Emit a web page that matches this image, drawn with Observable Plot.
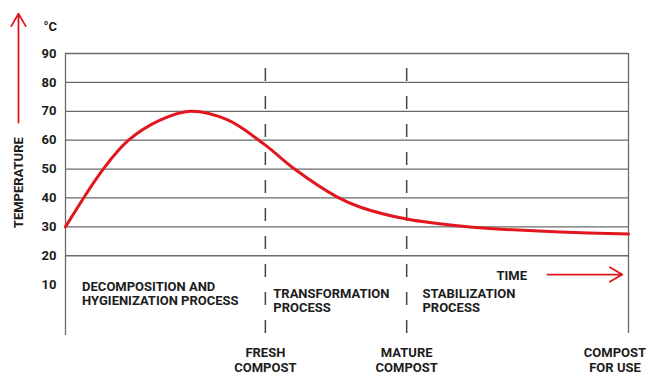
<!DOCTYPE html>
<html>
<head>
<meta charset="utf-8">
<script src="https://cdn.jsdelivr.net/npm/d3@7"></script>
<script src="https://cdn.jsdelivr.net/npm/@observablehq/plot@0.6"></script>
<style>
  html, body { margin: 0; padding: 0; background: #fff; }
  #chart { width: 646px; height: 374px; overflow: hidden; }
</style>
</head>
<body>
<div id="chart"></div>
<script>
// Temperature curve (time in % of process, temperature in °C)
const time = [0, 6.7, 11.2, 16.9, 22.2, 28.8, 35.5, 40.5, 48.3, 52.4, 60.6, 71.4, 77.3, 87.9, 100];
const temperature = [30, 50, 60, 67, 70, 67, 58.3, 50.3, 40.3, 36.8, 32.7, 30, 29.2, 28.2, 27.5];

const yTicks = [10, 20, 30, 40, 50, 60, 70, 80, 90];
const gridValues = [20, 30, 40, 50, 60, 70, 80, 90];

// Phase boundaries
const boundaryTime = [35.5, 60.6];
const milestoneLabels = ["FRESH\nCOMPOST", "MATURE\nCOMPOST", "COMPOST\nFOR USE"];
const milestoneTime = [35.5, 60.6, 97.6];

const phaseLabels = ["DECOMPOSITION AND\nHYGIENIZATION PROCESS", "TRANSFORMATION\nPROCESS", "STABILIZATION\nPROCESS"];
const phaseTime = [2.95, 36.9, 63.4];
const phaseTemp = [7.0, 4.57, 4.57];

const curve = time.map((t, i) => ({t, v: temperature[i]}));
const red = "#e2161e";
const gray = "#6a6a6a";
const ink = "#1c1c1c";

const chart = Plot.plot({
  width: 646,
  height: 374,
  marginLeft: 65,
  marginRight: 18,
  marginTop: 53,
  marginBottom: 39,
  style: {fontFamily: "Roboto, 'Liberation Sans', sans-serif", fontSize: "13px", fontWeight: "bold", background: "#fff"},
  x: {domain: [0, 100], axis: null},
  y: {domain: [-7.6, 90], axis: null},
  marks: [
    Plot.ruleY(gridValues, {x1: 0, x2: 100, stroke: gray, strokeWidth: 1.3}),
    Plot.ruleX([0], {y1: -7.6, y2: 90, stroke: gray, strokeWidth: 1.3}),
    Plot.ruleX([100], {y1: -6.9, y2: 90, stroke: gray, strokeWidth: 1.3}),
    Plot.ruleX(boundaryTime, {y1: -6.9, y2: 90, stroke: "#444", strokeWidth: 1.5, strokeDasharray: "13,15", strokeDashoffset: 0}),
    Plot.line(curve, {x: "t", y: "v", stroke: red, strokeWidth: 3, curve: "catmull-rom"}),
    Plot.axisY(yTicks, {tickSize: 0, tickPadding: 9, label: null, fill: ink, fontSize: 13, fontWeight: "bold"}),
    Plot.text(["°C"], {x: -3.9, y: 99.4, textAnchor: "start", fill: ink, fontSize: 13, fontWeight: "bold"}),
    Plot.text(["TEMPERATURE"], {x: -8.35, y: 45.3, rotate: -90, fill: ink, fontSize: 13, fontWeight: "bold"}),
    Plot.arrow([{x1: -8.35, y1: 66.1, x2: -8.35, y2: 103.8}], {x1: "x1", y1: "y1", x2: "x2", y2: "y2", stroke: red, strokeWidth: 1.8, headLength: 12, headAngle: 60}),
    Plot.text(phaseLabels, {x: (d, i) => phaseTime[i], y: (d, i) => phaseTemp[i], textAnchor: "start", lineHeight: 14 / 13, fill: ink, fontSize: 13, fontWeight: "bold"}),
    Plot.text(["TIME"], {x: 76.55, y: 12.9, textAnchor: "start", fill: ink, fontSize: 13, fontWeight: "bold"}),
    Plot.arrow([{x1: 85.6, y1: 13.5, x2: 98.9, y2: 13.5}], {x1: "x1", y1: "y1", x2: "x2", y2: "y2", stroke: red, strokeWidth: 1.8, headLength: 12, headAngle: 60}),
    Plot.text(milestoneLabels, {x: (d, i) => milestoneTime[i], y: -16.0, lineHeight: 15 / 13, fill: ink, fontSize: 13, fontWeight: "bold"})
  ]
});
document.getElementById("chart").appendChild(chart);
</script>
</body>
</html>
